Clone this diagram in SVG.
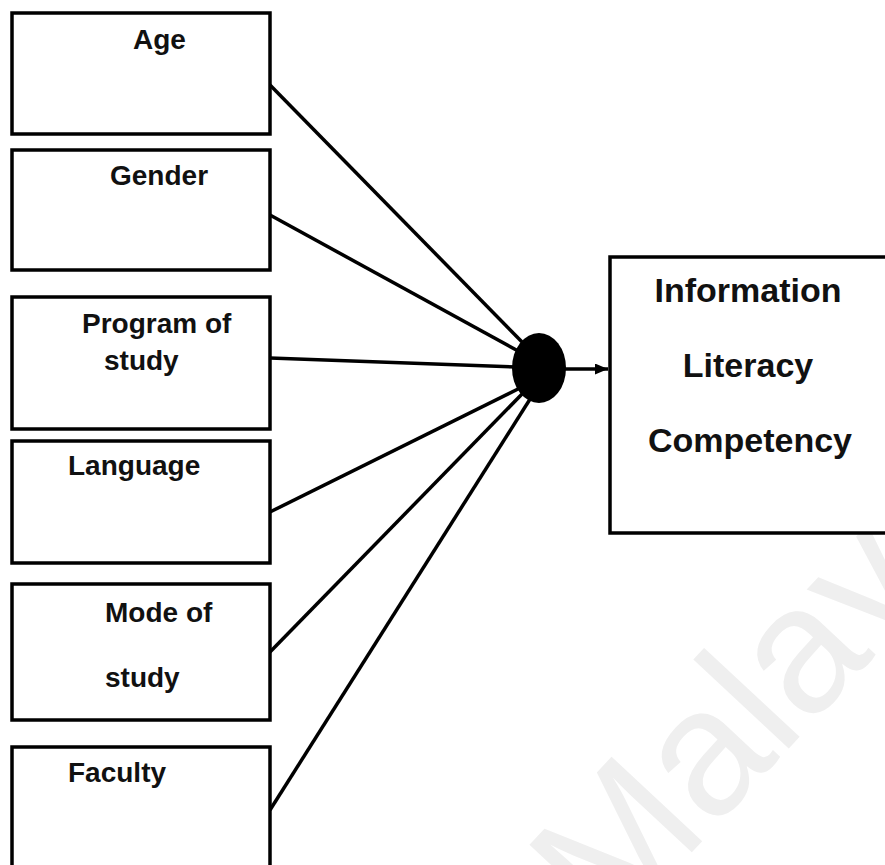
<svg xmlns="http://www.w3.org/2000/svg" width="885" height="865" viewBox="0 0 885 865">
  <style>
    .box { fill: #ffffff; stroke: #000000; stroke-width: 3.5; }
    .lbl { font-family: "Liberation Sans", Arial, sans-serif; font-weight: bold; font-size: 28px; fill: #111111; }
    .big { font-family: "Liberation Sans", Arial, sans-serif; font-weight: bold; font-size: 34px; fill: #111111; text-anchor: middle; }
    .link { stroke: #000000; stroke-width: 3.5; fill: none; }
    .wm { font-family: "Liberation Sans", Arial, sans-serif; font-size: 180px; fill: #efefef; }
  </style>
  <defs>
    <marker id="head" viewBox="0 0 13 11" refX="13" refY="5.5" markerWidth="13" markerHeight="11" markerUnits="userSpaceOnUse" orient="auto">
      <path d="M0,0 L13,5.5 L0,11 z" fill="#000000"/>
    </marker>
  </defs>

  <rect width="885" height="865" fill="#ffffff"/>

  <!-- background watermark -->
  <text class="wm" x="610" y="940" transform="rotate(-47 610 940)">Malaya</text>

  <!-- connectors: each factor feeds the junction dot -->
  <g id="connectors">
    <line class="link" x1="270" y1="85" x2="525" y2="345"/>
    <line class="link" x1="270" y1="215" x2="520" y2="352"/>
    <line class="link" x1="270" y1="358" x2="518" y2="367"/>
    <line class="link" x1="270" y1="512" x2="520" y2="388"/>
    <line class="link" x1="270" y1="652" x2="524" y2="392"/>
    <line class="link" x1="270" y1="810" x2="532" y2="396"/>
    <line class="link" x1="560" y1="369" x2="608" y2="369" marker-end="url(#head)"/>
  </g>

  <g id="junction">
    <ellipse cx="539" cy="368" rx="27" ry="35" fill="#000000"/>
  </g>

  <g id="age">
    <rect class="box" x="12" y="13" width="258" height="121"/>
    <text class="lbl" x="133" y="49">Age</text>
  </g>

  <g id="gender">
    <rect class="box" x="12" y="150" width="258" height="120"/>
    <text class="lbl" x="110" y="185">Gender</text>
  </g>

  <g id="program">
    <rect class="box" x="12" y="297" width="258" height="132"/>
    <text class="lbl" x="82" y="333">Program of</text>
    <text class="lbl" x="104" y="370">study</text>
  </g>

  <g id="language">
    <rect class="box" x="12" y="441" width="258" height="122"/>
    <text class="lbl" x="68" y="475">Language</text>
  </g>

  <g id="mode">
    <rect class="box" x="12" y="584" width="258" height="136"/>
    <text class="lbl" x="105" y="622">Mode of</text>
    <text class="lbl" x="105" y="687">study</text>
  </g>

  <g id="faculty">
    <rect class="box" x="12" y="747" width="258" height="130"/>
    <text class="lbl" x="68" y="782">Faculty</text>
  </g>

  <g id="outcome">
    <rect class="box" x="610" y="257" width="290" height="276"/>
    <text class="big" x="748" y="302">Information</text>
    <text class="big" x="748" y="377">Literacy</text>
    <text class="big" x="750" y="452">Competency</text>
  </g>
</svg>
